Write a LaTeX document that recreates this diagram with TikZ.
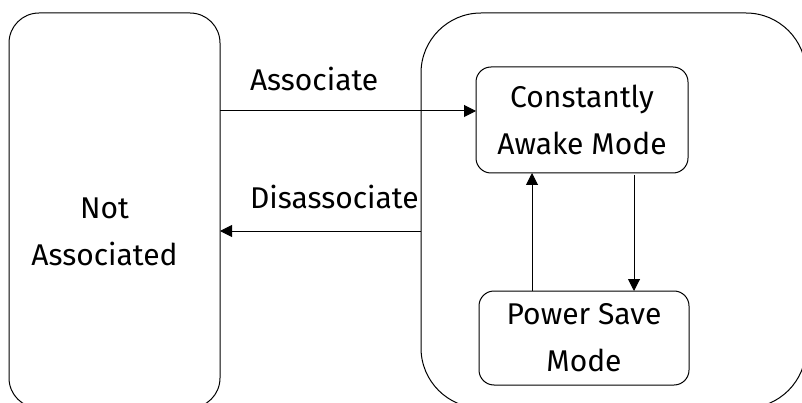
\documentclass[tikz,border=0pt]{standalone}
\usepackage{fontspec}
\setmainfont{Fira Sans}
\usetikzlibrary{arrows.meta}
\begin{document}
\begin{tikzpicture}[x=1pt,y=-1pt,
  every node/.style={font=\fontsize{30}{47}\selectfont, inner sep=0pt, outer sep=0pt},
  bigbox/.style={draw, line width=1pt, rounded corners=#1},
  modebox/.style={draw, line width=1pt, rounded corners=15pt},
  txt/.style={align=center},
  conn/.style={line width=1pt, -{Triangle[length=12pt,width=12pt]}}]
\useasboundingbox (0,0) rectangle (802,403);
\clip (0,0) rectangle (802,403);
% outer boxes
\node[bigbox=30pt, minimum width=211pt, minimum height=395pt] (na) at (114.5,210.5) {};
\node[bigbox=60pt, minimum width=385pt, minimum height=395pt] (on) at (613.5,210.5) {};
\node[txt] (natxt) at (104.5,232) {Not\\Associated};
% inner boxes
\node[modebox, minimum width=212pt, minimum height=106pt] (cam) at (582,120) {};
\node[txt] (camtxt) at (582,120) {Constantly\\Awake Mode};
\node[modebox, minimum width=210pt, minimum height=94pt] (psm) at (584,338) {};
\node[txt] (psmtxt) at (584,338) {Power Save\\Mode};
% connection points
\coordinate (a1) at (na.east |- 0,111);
\coordinate (a2) at (cam.west |- 0,111);
\coordinate (d1) at (on.west |- 0,231);
\coordinate (d2) at (na.east |- 0,231);
\draw[conn] (a1) -- (a2);
\draw[conn] (d1) -- (d2);
\draw[conn] (psm.north -| 532,0) -- (cam.south -| 532,0);
\draw[conn] (cam.south -| 634,0) ++(0,2) -- (psm.north -| 634,0);
% labels
\node[anchor=base west] (lassoc) at (250,91) {Associate};
\node[anchor=base west] (ldis) at (250,208) {Disassociate};
\end{tikzpicture}
\end{document}
